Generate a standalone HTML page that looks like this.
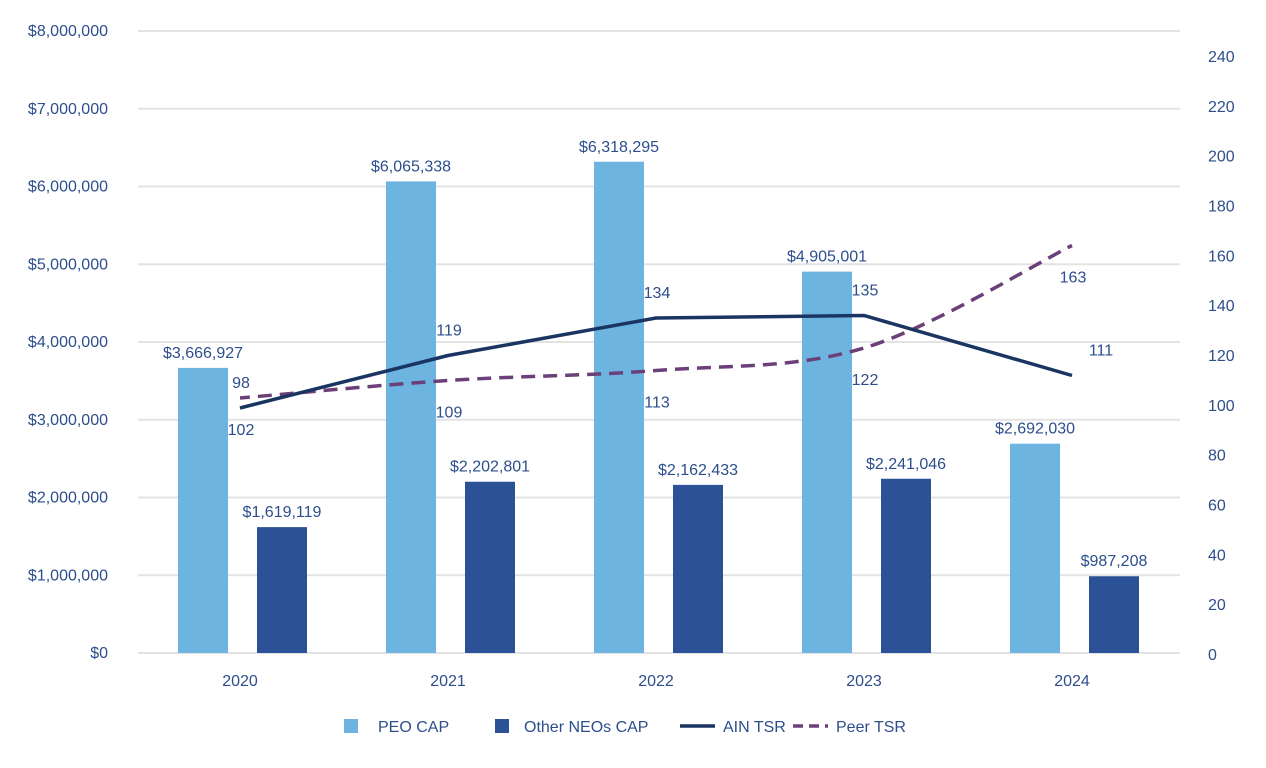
<!DOCTYPE html>
<html><head><meta charset="utf-8"><style>
body{margin:0;background:#fff;}
svg{display:block;font-family:"Liberation Sans",Arial,sans-serif;}
</style></head><body>
<svg id="chart" width="1266" height="768"></svg>
<script>
const categories=["2020","2021","2022","2023","2024"];
const peoCap=[3666927,6065338,6318295,4905001,2692030];
const neoCap=[1619119,2202801,2162433,2241046,987208];
const ainTsr=[98,119,134,135,111];
const peerTsr=[102,109,113,122,163];
const leftTicks=[0,1000000,2000000,3000000,4000000,5000000,6000000,7000000,8000000];
const rightTicks=[0,20,40,60,80,100,120,140,160,180,200,220,240];

const NS="http://www.w3.org/2000/svg";
const svg=document.getElementById("chart");
const txtCol="#2d4e8c";
const FS=16;
function el(tag,attrs,parent){const e=document.createElementNS(NS,tag);for(const k in attrs)e.setAttribute(k,attrs[k]);(parent||svg).appendChild(e);return e;}
const yL=v=>653-v*(622/8000000);
const yR=v=>655-v*(600/240)-2;
const xC=i=>240+i*208;
const fmt=v=>"$"+v.toLocaleString("en-US");

const grid=el("g",{});


leftTicks.forEach(t=>{
  const l=el("line",{x1:138,x2:1180,y1:yL(t),y2:yL(t),stroke:"#e3e3e3","stroke-width":2},grid);
  
  
  const tx=el("text",{x:108,y:yL(t)+5,"text-anchor":"end","font-size":FS,fill:txtCol});
  tx.textContent=fmt(t);
  
  
});
rightTicks.forEach(t=>{
  const tx=el("text",{x:1208,y:655-t*(598/240)+5,"font-size":FS,fill:txtCol});
  tx.textContent=t;
  
  
});
categories.forEach((c,i)=>{
  const tx=el("text",{x:xC(i),y:686,"text-anchor":"middle","font-size":FS,fill:txtCol});
  tx.textContent=c;
  
  
  const b1=el("rect",{x:xC(i)-62,y:yL(peoCap[i]),width:50,height:653-yL(peoCap[i]),fill:"#6db4e1"});
  
  
  const l1=el("text",{x:xC(i)-37,y:yL(peoCap[i])-10,"text-anchor":"middle","font-size":FS,fill:txtCol});
  l1.textContent=fmt(peoCap[i]);
  
  
  const b2=el("rect",{x:xC(i)+17,y:yL(neoCap[i]),width:50,height:653-yL(neoCap[i]),fill:"#2b5196"});
  
  
  const l2=el("text",{x:xC(i)+42,y:yL(neoCap[i])-10,"text-anchor":"middle","font-size":FS,fill:txtCol});
  l2.textContent=fmt(neoCap[i]);
  
  
});
const pp=peerTsr.map((v,i)=>[xC(i),yR(v)]);
let d="M"+pp[0][0]+","+pp[0][1];
for(let i=0;i<pp.length-1;i++){
  const p0=pp[Math.max(0,i-1)],p1=pp[i],p2=pp[i+1],p3=pp[Math.min(pp.length-1,i+2)];
  const c1=[p1[0]+(p2[0]-p0[0])/6,p1[1]+(p2[1]-p0[1])/6];
  const c2=[p2[0]-(p3[0]-p1[0])/6,p2[1]-(p3[1]-p1[1])/6];
  d+=` C${c1[0]},${c1[1]} ${c2[0]},${c2[1]} ${p2[0]},${p2[1]}`;
}
const peer=el("path",{d:d,fill:"none",stroke:"#6b4079","stroke-width":3.5,"stroke-dasharray":"14,8","stroke-dashoffset":"4"});


const ain=el("polyline",{points:ainTsr.map((v,i)=>xC(i)+","+yR(v)).join(" "),fill:"none",stroke:"#1b3562","stroke-width":3.5});


ainTsr.forEach((v,i)=>{
  const t=el("text",{x:xC(i)+(i==4?29:1),y:yR(v)-20,"text-anchor":"middle","font-size":FS,fill:txtCol});
  t.textContent=v;
  
  
});
peerTsr.forEach((v,i)=>{
  const t=el("text",{x:xC(i)+1,y:yR(v)+37,"text-anchor":"middle","font-size":FS,fill:txtCol});
  t.textContent=v;
  
  
});
const lg=el("g",{});


const items=[["rect","#6db4e1","PEO CAP",344,378],["rect","#2b5196","Other NEOs CAP",495,524],["line","#1b3562","AIN TSR",680,723],["dash","#6b4079","Peer TSR",793,836]];
items.forEach(it=>{
  const g=el("g",{},lg);
  
  
  if(it[0]=="rect") el("rect",{x:it[3],y:719,width:14,height:14,fill:it[1]},g);
  else el("line",{x1:it[3],x2:it[3]+35,y1:726,y2:726,stroke:it[1],"stroke-width":3.5,"stroke-dasharray":it[0]=="dash"?"10,6":"none"},g);
  const t=el("text",{x:it[4],y:732,"font-size":FS,fill:txtCol},g);
  t.textContent=it[2];
});
</script>
</body></html>
